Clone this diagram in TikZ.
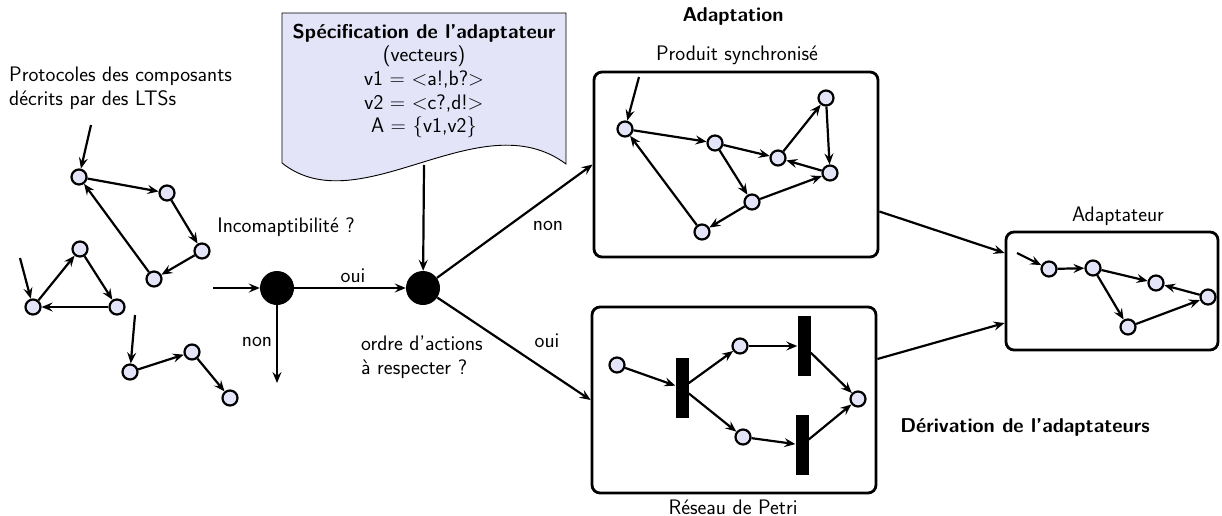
\documentclass[tikz,border=0pt]{standalone}
\usetikzlibrary{arrows.meta}
\definecolor{lav}{RGB}{228,228,248}
\tikzset{
  >={Stealth[length=11pt,width=9pt,inset=4pt]},
  state/.style={circle, draw, fill=lav, line width=2.2pt, minimum size=15pt, inner sep=0},
  choice/.style={circle, fill=black, minimum size=34pt, inner sep=0},
  trans/.style={rectangle, fill=black, minimum width=13pt, minimum height=60pt, inner sep=0},
  panel/.style={draw, rounded corners=8pt, line width=2.8pt},
  link/.style={->, line width=2.2pt},
  lbl/.style={font=\fontsize{21}{23.6}\selectfont\sffamily, inner sep=0},
  title/.style={font=\fontsize{20}{23.6}\selectfont\sffamily\bfseries, inner sep=0},
}
\begin{document}
\begin{tikzpicture}[x=1pt, y=-1pt]
\useasboundingbox (0,0) rectangle (1222,516);

% Component protocols
\node[lbl, align=left, anchor=west] (proto) at (9,88) {Protocoles des composants\\d\'ecrits par des LTSs};
\node[state] (a1) at (79,177) {};
\node[state] (a2) at (167,193) {};
\node[state] (a3) at (202,251) {};
\node[state] (a4) at (154,279) {};
\coordinate (a0) at (91,125);
\draw[link] (a0) -- (a1);
\draw[link] (a1) -- (a2);
\draw[link] (a2) -- (a3);
\draw[link] (a3) -- (a4);
\draw[link] (a4) -- (a1);

\node[state] (b1) at (33,307) {};
\node[state] (b2) at (80,249) {};
\node[state] (b3) at (117,307) {};
\coordinate (b0) at (20,258);
\draw[link] (b0) -- (b1);
\draw[link] (b1) -- (b2);
\draw[link] (b2) -- (b3);
\draw[link] (b3) -- (b1);

\node[state] (c1) at (130,372) {};
\node[state] (c2) at (192,352) {};
\node[state] (c3) at (230,398) {};
\coordinate (c0) at (135,315);
\draw[link] (c0) -- (c1);
\draw[link] (c1) -- (c2);
\draw[link] (c2) -- (c3);

% Decisions
\node[choice] (dec1) at (277,288) {};
\node[choice] (dec2) at (423,288) {};
\coordinate (in) at (213,288);
\coordinate (stop) at (277,383);
\draw[link] (in) -- (dec1);
\draw[link] (dec1) -- (dec2);
\draw[link] (dec1) -- (stop);
\node[lbl] (incomp) at (286,227) {Incomaptibilit\'e ?};
\node[lbl] (oui1) at (353,276) {oui};
\node[lbl] (non1) at (257,342) {non};
\node[lbl, align=left] (ordre) at (422,357) {ordre d'actions\\\`a respecter ?};

% Adaptor specification
\draw[fill=lav, line width=0.9pt] (282,163) -- (282,13) -- (566,13) -- (566,164)
  .. controls (480,100) and (360,225) .. (282,163);
\node[lbl, align=center] (spec) at (424,81) {{\fontsize{20}{23.6}\selectfont\bfseries Sp\'ecification de l'adaptateur}\\(vecteurs)\\v1 = $<$a!,b?$>$\\v2 = $<$c?,d!$>$\\A = \{v1,v2\}};
\coordinate (docb) at (424,165);
\draw[link] (docb) -- (dec2);

% Synchronised product
\node[title] (adaptation) at (733,17) {Adaptation};
\node[panel, minimum width=284pt, minimum height=185pt] (sync) at (736,164.5) {};
\node[lbl] (synclbl) at (737,55) {Produit synchronis\'e};
\node[state] (p1) at (625,129) {};
\node[state] (p2) at (715,143) {};
\node[state] (p3) at (778,158) {};
\node[state] (p4) at (826,98) {};
\node[state] (p5) at (830,173) {};
\node[state] (p6) at (752,202) {};
\node[state] (p7) at (702,232) {};
\coordinate (p0) at (639,77);
\draw[link] (p0) -- (p1);
\draw[link] (p1) -- (p2);
\draw[link] (p2) -- (p3);
\draw[link] (p2) -- (p6);
\draw[link] (p3) -- (p4);
\draw[link] (p4) -- (p5);
\draw[link] (p5) -- (p3);
\draw[link] (p6) -- (p5);
\draw[link] (p6) -- (p7);
\draw[link] (p7) -- (p1);

% Petri net
\node[panel, minimum width=284pt, minimum height=186pt] (petri) at (734,400) {};
\node[lbl] (petrilbl) at (733,507) {R\'eseau de Petri};
\node[state] (q1) at (617,365) {};
\node[trans] (t1) at (682,388) {};
\node[state] (q2) at (740,346) {};
\node[trans] (t2) at (804,346) {};
\node[state] (q3) at (743,437) {};
\node[trans] (t3) at (802,445) {};
\node[state] (q4) at (858,399) {};
\draw[link] (q1) -- (t1);
\draw[link] (t1) -- (q2);
\draw[link] (t1) -- (q3);
\draw[link] (q2) -- (t2);
\draw[link] (q3) -- (t3);
\draw[link] (t2) -- (q4);
\draw[link] (t3) -- (q4);

\draw[link] (dec2) -- (sync.west);
\draw[link] (dec2) -- (petri.west);
\node[lbl] (non2) at (548,226) {non};
\node[lbl] (oui2) at (547,341) {oui};

% Adaptor
\node[panel, minimum width=212pt, minimum height=118pt] (adapt) at (1112,291) {};
\node[lbl] (adaptlbl) at (1118,216) {Adaptateur};
\node[state] (r1) at (1049,269) {};
\node[state] (r2) at (1093,268) {};
\node[state] (r3) at (1156,283) {};
\node[state] (r4) at (1208,297) {};
\node[state] (r5) at (1128,327) {};
\coordinate (r0) at (1017,253);
\draw[link] (r0) -- (r1);
\draw[link] (r1) -- (r2);
\draw[link] (r2) -- (r3);
\draw[link] (r2) -- (r5);
\draw[link] (r5) -- (r4);
\draw[link] (r4) -- (r3);

\draw[link] ([yshift=-47pt]sync.east) -- ([yshift=38pt]adapt.west);
\draw[link] ([yshift=41pt]petri.east) -- ([yshift=-32pt]adapt.west);
\node[title] (deriv) at (1025,427) {D\'erivation de l'adaptateurs};
\end{tikzpicture}
\end{document}
